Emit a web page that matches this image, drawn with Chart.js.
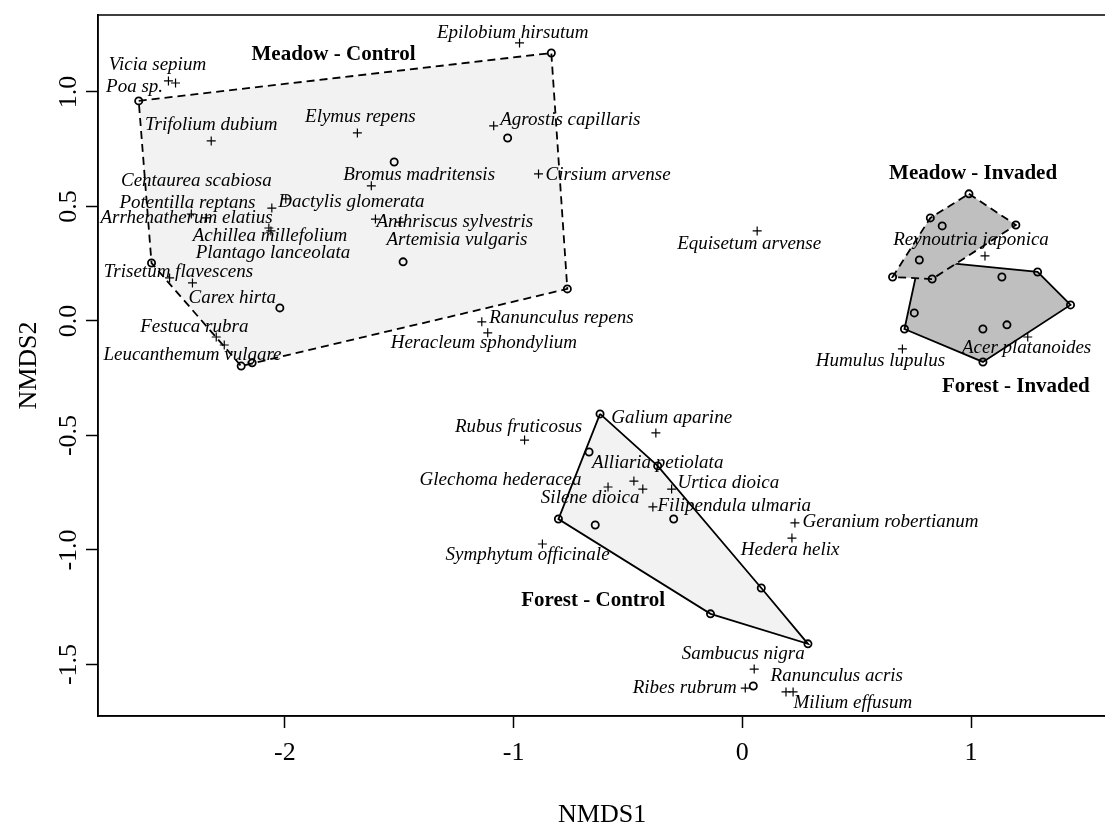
<!DOCTYPE html>
<html>
<head>
<meta charset="utf-8">
<script src="https://cdn.jsdelivr.net/npm/chart.js@4"></script>
<style>
  html, body { margin: 0; padding: 0; background: #fff; overflow: hidden; }
</style>
</head>
<body>
<canvas id="chart" width="1112" height="826"></canvas>
<script>
(() => {
  // species scores (+) and where their names sit
  const speciesNames = [
    "Vicia sepium", "Poa sp.", "Epilobium hirsutum", "Trifolium dubium", "Elymus repens",
    "Agrostis capillaris", "Bromus madritensis", "Cirsium arvense", "Centaurea scabiosa", "Potentilla reptans",
    "Dactylis glomerata", "Arrhenatherum elatius", "Achillea millefolium", "Plantago lanceolata", "Anthriscus sylvestris",
    "Artemisia vulgaris", "Trisetum flavescens", "Carex hirta", "Festuca rubra", "Leucanthemum vulgare",
    "Ranunculus repens", "Heracleum sphondylium", "Equisetum arvense", "Reynoutria japonica", "Humulus lupulus",
    "Acer platanoides", "Rubus fruticosus", "Galium aparine", "Glechoma hederacea", "Silene dioica",
    "Alliaria petiolata", "Urtica dioica", "Filipendula ulmaria", "Geranium robertianum", "Symphytum officinale",
    "Hedera helix", "Sambucus nigra", "Ranunculus acris", "Ribes rubrum", "Milium effusum",
  ];
  const speciesX = [
    -2.509, -2.478, -0.974, -2.322, -1.683, -1.087, -1.622, -0.891, -2.409, -2.343,
    -2.057, -2.070, -1.996, -2.061, -1.604, -1.496, -2.504, -2.404, -2.300, -2.265,
    -1.139, -1.113, 0.065, 1.061, 0.700, 1.248, -0.952, -0.378, -0.587, -0.474,
    -0.435, -0.309, -0.391, 0.230, -0.874, 0.217, 0.052, 0.191, 0.013, 0.222,
  ];
  const speciesY = [
    1.048, 1.039, 1.214, 0.786, 0.821, 0.852, 0.590, 0.642, 0.467, 0.450,
    0.493, 0.406, 0.533, 0.393, 0.445, 0.432, 0.188, 0.166, -0.070, -0.105,
    -0.004, -0.052, 0.393, 0.284, -0.122, -0.070, -0.520, -0.489, -0.725, -0.699,
    -0.734, -0.734, -0.812, -0.882, -0.974, -0.948, -1.520, -1.620, -1.603, -1.620,
  ];
  const speciesLabelX = [
    -2.557, -2.657, -1.004, -2.322, -1.670, -0.752, -1.413, -0.587, -2.387, -2.426,
    -1.709, -2.430, -2.065, -2.052, -1.257, -1.248, -2.465, -2.230, -2.396, -2.404,
    -0.791, -1.130, 0.030, 1.000, 0.604, 1.243, -0.978, -0.309, -1.057, -0.665,
    -0.370, -0.061, -0.035, 0.648, -0.939, 0.209, 0.004, 0.413, -0.252, 0.483,
  ];
  const speciesLabelY = [
    1.118, 1.022, 1.258, 0.856, 0.891, 0.878, 0.638, 0.638, 0.611, 0.515,
    0.520, 0.450, 0.371, 0.297, 0.432, 0.354, 0.214, 0.100, -0.026, -0.148,
    0.013, -0.096, 0.336, 0.354, -0.175, -0.118, -0.463, -0.424, -0.694, -0.773,
    -0.620, -0.707, -0.808, -0.878, -1.022, -1.000, -1.454, -1.550, -1.603, -1.668,
  ];

  // site scores (o) per group, hull = indices of the outline
  const mcX = [-2.639, -0.835, -1.026, -1.522, -1.483, -0.765, -2.022, -2.191, -2.583, -2.143];
  const mcY = [0.961, 1.170, 0.799, 0.694, 0.258, 0.140, 0.057, -0.197, 0.253, -0.183];
  const mcHull = [0, 1, 5, 7, 8];

  const miX = [0.991, 1.196, 0.830, 0.657, 0.822, 0.874];
  const miY = [0.555, 0.419, 0.183, 0.192, 0.450, 0.415];
  const miHull = [0, 1, 2, 3, 4];

  const fiX = [0.774, 1.291, 1.435, 1.052, 0.709, 1.135, 0.752, 1.052, 1.157];
  const fiY = [0.266, 0.214, 0.070, -0.179, -0.035, 0.192, 0.035, -0.035, -0.017];
  const fiHull = [0, 1, 2, 3, 4];

  const fcX = [-0.622, -0.370, 0.083, 0.287, -0.139, -0.804, -0.670, -0.643, -0.300];
  const fcY = [-0.406, -0.633, -1.166, -1.410, -1.279, -0.865, -0.572, -0.891, -0.865];
  const fcHull = [0, 1, 2, 3, 4, 5];

  const otherX = [0.048];
  const otherY = [-1.594];

  const groupNames = ["Meadow - Control", "Meadow - Invaded", "Forest - Invaded", "Forest - Control"];
  const groupLabelX = [-1.787, 1.009, 1.196, -0.652];
  const groupLabelY = [1.162, 0.642, -0.288, -1.223];

  const xTicks = [-2, -1, 0, 1];
  const yTicks = [-1.5, -1.0, -0.5, 0.0, 0.5, 1.0];

  const toPoints = (xs, ys) => xs.map((x, i) => ({ x, y: ys[i] }));
  const hullPoints = (xs, ys, hull) => {
    const pts = hull.map((i) => ({ x: xs[i], y: ys[i] }));
    pts.push(pts[0]);
    return pts;
  };

  const hull = (xs, ys, idx, fill, dashed, order) => ({
    data: hullPoints(xs, ys, idx),
    showLine: true,
    fill: "shape",
    backgroundColor: fill,
    borderColor: "#000",
    borderWidth: 1.8,
    borderDash: dashed ? [8, 5] : [],
    pointRadius: 0,
    tension: 0,
    order,
  });

  const sites = [
    ...toPoints(mcX, mcY), ...toPoints(miX, miY), ...toPoints(fiX, fiY),
    ...toPoints(fcX, fcY), ...toPoints(otherX, otherY),
  ];

  const serif = "'Liberation Serif', 'Times New Roman', serif";

  const labels = {
    id: "labels",
    afterDatasetsDraw(chart) {
      const { ctx, chartArea: a, scales: { x, y } } = chart;
      ctx.save();
      ctx.fillStyle = "#000";
      ctx.textAlign = "center";
      ctx.textBaseline = "middle";
      ctx.font = `italic 19px ${serif}`;
      speciesNames.forEach((name, i) => {
        ctx.fillText(name, x.getPixelForValue(speciesLabelX[i]), y.getPixelForValue(speciesLabelY[i]));
      });
      ctx.font = `bold 21px ${serif}`;
      groupNames.forEach((name, i) => {
        ctx.fillText(name, x.getPixelForValue(groupLabelX[i]), y.getPixelForValue(groupLabelY[i]));
      });
      ctx.strokeStyle = "#000";
      ctx.lineWidth = 1.5;
      ctx.strokeRect(a.left, a.top, a.right - a.left, a.bottom - a.top);
      ctx.restore();
    },
  };

  new Chart(document.getElementById("chart"), {
    type: "scatter",
    data: {
      datasets: [
        hull(fiX, fiY, fiHull, "#bfbfbf", false, 6),
        hull(miX, miY, miHull, "#bfbfbf", true, 5),
        hull(mcX, mcY, mcHull, "#f2f2f2", true, 4),
        hull(fcX, fcY, fcHull, "#f2f2f2", false, 3),
        {
          data: toPoints(speciesX, speciesY),
          pointStyle: "cross",
          pointRadius: 4.5,
          borderColor: "#000",
          borderWidth: 1.2,
          order: 2,
        },
        {
          data: sites,
          pointStyle: "circle",
          pointRadius: 3.6,
          borderColor: "#000",
          backgroundColor: "rgba(0,0,0,0)",
          borderWidth: 1.8,
          order: 1,
        },
      ],
    },
    options: {
      responsive: false,
      animation: false,
      events: [],
      layout: { padding: { top: 15, left: 0, right: 0, bottom: 0 } },
      plugins: { legend: { display: false }, tooltip: { enabled: false } },
      scales: {
        x: {
          type: "linear",
          min: -2.817,
          max: 1.591,
          afterBuildTicks: (axis) => { axis.ticks = xTicks.map((value) => ({ value })); },
          afterFit: (axis) => { axis.height = 110; },
          grid: { drawOnChartArea: false, tickLength: 12, tickColor: "#000", tickWidth: 1.5 },
          border: { display: true, color: "#000", width: 1.5 },
          ticks: { color: "#000", font: { family: serif, size: 26 }, padding: 10, callback: (v) => String(v) },
          title: { display: true, text: "NMDS1", color: "#000", font: { family: serif, size: 26, lineHeight: 0.8 }, padding: 0 },
        },
        y: {
          type: "linear",
          min: -1.725,
          max: 1.336,
          afterBuildTicks: (axis) => { axis.ticks = yTicks.map((value) => ({ value })); },
          afterFit: (axis) => { axis.width = 98; },
          grid: { drawOnChartArea: false, tickLength: 12, tickColor: "#000", tickWidth: 1.5 },
          border: { display: true, color: "#000", width: 1.5 },
          ticks: {
            color: "#000", font: { family: serif, size: 26 }, padding: -4,
            minRotation: 90, maxRotation: 90, crossAlign: "center",
            callback: (v) => Number(v).toFixed(1),
          },
          title: { display: true, text: "NMDS2", color: "#000", font: { family: serif, size: 26 }, padding: { top: 14, bottom: 0 } },
        },
      },
    },
    plugins: [labels],
  });
})();
</script>
</body>
</html>
